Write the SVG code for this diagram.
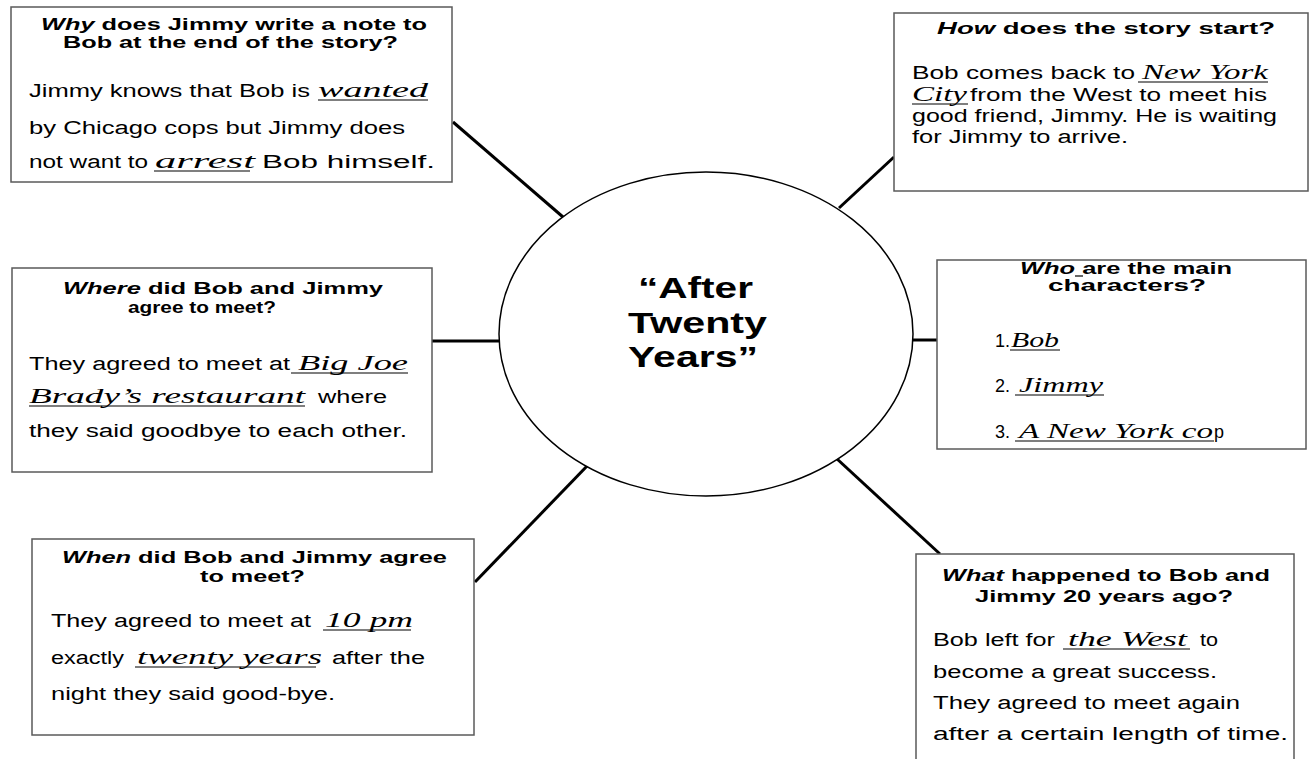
<svg xmlns="http://www.w3.org/2000/svg" width="1312" height="759" viewBox="0 0 1312 759">
<style>
.box{fill:#fff;stroke:#5a5a5a;stroke-width:1.5}
.hd{font-family:"Liberation Sans",Arial,sans-serif;font-weight:bold;font-size:17px;fill:#000}
.bd{font-family:"Liberation Sans",Arial,sans-serif;font-size:18px;fill:#000}
.sc{font-family:"Liberation Serif","Times New Roman",serif;font-style:italic;font-size:21px;fill:#000}
.ttl{font-family:"Liberation Sans",Arial,sans-serif;font-weight:bold;font-size:30px;fill:#000}
.ul{stroke:#000;stroke-width:1.2}
.conn line{stroke:#000;stroke-width:3}
.it{font-style:italic}
</style>
<rect width="1312" height="759" fill="#fff"/>
<g class="conn" id="connectors">
<line x1="453" y1="122" x2="563" y2="217"/>
<line x1="839" y1="208" x2="894" y2="157"/>
<line x1="432" y1="341" x2="499" y2="341"/>
<line x1="913" y1="340" x2="937" y2="340"/>
<line x1="589" y1="464" x2="475" y2="582"/>
<line x1="836" y1="458" x2="940" y2="554"/>
</g>
<g id="center">
<ellipse cx="706" cy="334" rx="207" ry="162" fill="#fff" stroke="#000" stroke-width="1.5"/>
<text class="ttl" x="638" y="298" textLength="115" lengthAdjust="spacingAndGlyphs">“After</text>
<text class="ttl" x="628" y="333" textLength="139" lengthAdjust="spacingAndGlyphs">Twenty</text>
<text class="ttl" x="628" y="367" textLength="130" lengthAdjust="spacingAndGlyphs">Years”</text>
</g>
<g id="why">
<rect class="box" x="11" y="7" width="441" height="175"/>
<text class="hd" x="41" y="30" textLength="386" lengthAdjust="spacingAndGlyphs"><tspan class="it">Why</tspan> does Jimmy write a note to</text>
<text class="hd" x="63" y="48" textLength="335" lengthAdjust="spacingAndGlyphs">Bob at the end of the story?</text>
<text class="bd" x="29" y="97" textLength="281" lengthAdjust="spacingAndGlyphs">Jimmy knows that Bob is</text>
<text class="sc" x="318" y="97" textLength="110" lengthAdjust="spacingAndGlyphs">wanted</text>
<line class="ul" x1="318" y1="100" x2="428" y2="100"/>
<text class="bd" x="29" y="134" textLength="376" lengthAdjust="spacingAndGlyphs">by Chicago cops but Jimmy does</text>
<text class="bd" x="29" y="168" textLength="119" lengthAdjust="spacingAndGlyphs">not want to</text>
<text class="sc" x="155" y="168" textLength="100" lengthAdjust="spacingAndGlyphs">arrest</text>
<line class="ul" x1="154" y1="171" x2="250" y2="171"/>
<text class="bd" x="262" y="168" textLength="173" lengthAdjust="spacingAndGlyphs">Bob himself.</text>
</g>
<g id="how">
<rect class="box" x="894" y="13" width="414" height="178"/>
<text class="hd" x="937" y="34" textLength="338" lengthAdjust="spacingAndGlyphs"><tspan class="it">How</tspan> does the story start?</text>
<text class="bd" x="912" y="79" textLength="223" lengthAdjust="spacingAndGlyphs">Bob comes back to</text>
<text class="sc" x="1142" y="79" textLength="126" lengthAdjust="spacingAndGlyphs">New York</text>
<line class="ul" x1="1138" y1="82" x2="1268" y2="82"/>
<text class="sc" x="912" y="101" textLength="55" lengthAdjust="spacingAndGlyphs">City</text>
<line class="ul" x1="912" y1="104" x2="968" y2="104"/>
<text class="bd" x="970" y="101" textLength="297" lengthAdjust="spacingAndGlyphs">from the West to meet his</text>
<text class="bd" x="912" y="122" textLength="365" lengthAdjust="spacingAndGlyphs">good friend, Jimmy. He is waiting</text>
<text class="bd" x="912" y="143" textLength="216" lengthAdjust="spacingAndGlyphs">for Jimmy to arrive.</text>
</g>
<g id="where">
<rect class="box" x="12" y="268" width="420" height="204"/>
<text class="hd" x="63" y="294" textLength="320" lengthAdjust="spacingAndGlyphs"><tspan class="it">Where</tspan> did Bob and Jimmy</text>
<text class="hd" x="128" y="313" textLength="148" lengthAdjust="spacingAndGlyphs">agree to meet?</text>
<text class="bd" x="29" y="370" textLength="261" lengthAdjust="spacingAndGlyphs">They agreed to meet at</text>
<text class="sc" x="298" y="370" textLength="110" lengthAdjust="spacingAndGlyphs">Big Joe</text>
<line class="ul" x1="291" y1="373" x2="408" y2="373"/>
<text class="sc" x="29" y="403" textLength="276" lengthAdjust="spacingAndGlyphs">Brady’s restaurant</text>
<line class="ul" x1="29" y1="406" x2="305" y2="406"/>
<text class="bd" x="318" y="403" textLength="69" lengthAdjust="spacingAndGlyphs">where</text>
<text class="bd" x="29" y="437" textLength="378" lengthAdjust="spacingAndGlyphs">they said goodbye to each other.</text>
</g>
<g id="who">
<rect class="box" x="937" y="260" width="369" height="189"/>
<text class="hd" x="1020" y="274" textLength="212" lengthAdjust="spacingAndGlyphs"><tspan class="it">Who</tspan> are the main</text>
<line class="ul" x1="1075" y1="276" x2="1083" y2="276" stroke-width="1.5"/>
<text class="hd" x="1048" y="291" textLength="158" lengthAdjust="spacingAndGlyphs">characters?</text>
<text class="bd" x="995" y="347">1.</text>
<text class="sc" x="1011" y="347" textLength="48" lengthAdjust="spacingAndGlyphs">Bob</text>
<line class="ul" x1="1010" y1="350" x2="1060" y2="350"/>
<text class="bd" x="995" y="392">2.</text>
<text class="sc" x="1019" y="392" textLength="84" lengthAdjust="spacingAndGlyphs">Jimmy</text>
<line class="ul" x1="1015" y1="395" x2="1104" y2="395"/>
<text class="bd" x="995" y="438">3.</text>
<text class="sc" x="1019" y="438" textLength="194" lengthAdjust="spacingAndGlyphs">A New York co</text>
<line class="ul" x1="1015" y1="441" x2="1214" y2="441"/>
<text class="bd" x="1214" y="438">p</text>
</g>
<g id="when">
<rect class="box" x="32" y="539" width="442" height="196"/>
<text class="hd" x="62" y="563" textLength="385" lengthAdjust="spacingAndGlyphs"><tspan class="it">When</tspan> did Bob and Jimmy agree</text>
<text class="hd" x="200" y="582" textLength="105" lengthAdjust="spacingAndGlyphs">to meet?</text>
<text class="bd" x="51" y="627" textLength="260" lengthAdjust="spacingAndGlyphs">They agreed to meet at</text>
<text class="sc" x="325" y="627" textLength="88" lengthAdjust="spacingAndGlyphs">10 pm</text>
<line class="ul" x1="323" y1="630" x2="411" y2="630"/>
<text class="bd" x="51" y="664" textLength="73" lengthAdjust="spacingAndGlyphs">exactly</text>
<text class="sc" x="137" y="664" textLength="185" lengthAdjust="spacingAndGlyphs">twenty years</text>
<line class="ul" x1="135" y1="667" x2="316" y2="667"/>
<text class="bd" x="332" y="664" textLength="93" lengthAdjust="spacingAndGlyphs">after the</text>
<text class="bd" x="51" y="700" textLength="284" lengthAdjust="spacingAndGlyphs">night they said good-bye.</text>
</g>
<g id="what">
<rect class="box" x="916" y="554" width="378" height="220"/>
<text class="hd" x="942" y="581" textLength="328" lengthAdjust="spacingAndGlyphs"><tspan class="it">What</tspan> happened to Bob and</text>
<text class="hd" x="975" y="602" textLength="258" lengthAdjust="spacingAndGlyphs">Jimmy 20 years ago?</text>
<text class="bd" x="933" y="646" textLength="122" lengthAdjust="spacingAndGlyphs">Bob left for</text>
<text class="sc" x="1068" y="646" textLength="119" lengthAdjust="spacingAndGlyphs">the West</text>
<line class="ul" x1="1063" y1="649" x2="1190" y2="649"/>
<text class="bd" x="1200" y="646" textLength="18" lengthAdjust="spacingAndGlyphs">to</text>
<text class="bd" x="933" y="678" textLength="284" lengthAdjust="spacingAndGlyphs">become a great success.</text>
<text class="bd" x="933" y="709" textLength="307" lengthAdjust="spacingAndGlyphs">They agreed to meet again</text>
<text class="bd" x="933" y="740" textLength="355" lengthAdjust="spacingAndGlyphs">after a certain length of time.</text>
</g>
</svg>
